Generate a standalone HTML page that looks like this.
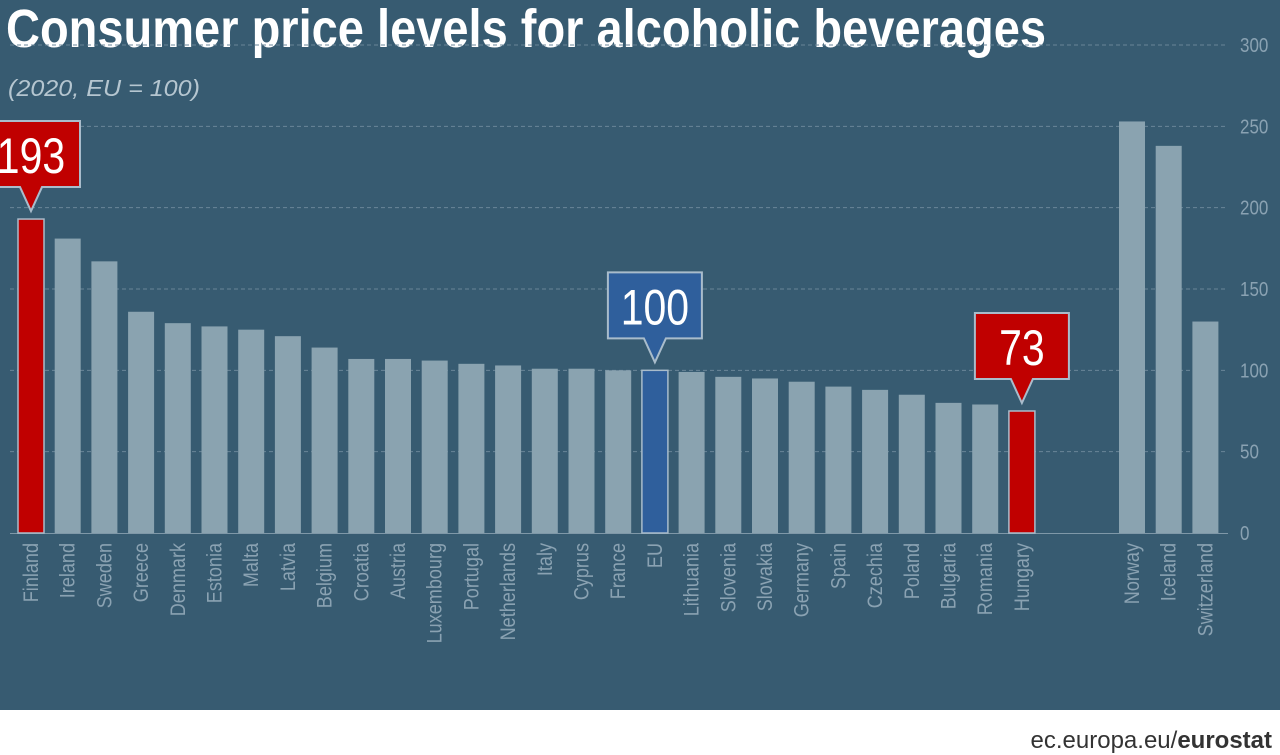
<!DOCTYPE html>
<html><head><meta charset="utf-8">
<style>
body{margin:0;width:1280px;height:755px;overflow:hidden;background:#fff;font-family:"Liberation Sans",sans-serif}
#panel{position:absolute;left:0;top:0;width:1280px;height:710px;background:#375b71}
</style></head><body>
<div id="panel"></div>
<svg id="chart" width="1280" height="755" style="position:absolute;left:0;top:0">
<text x="6" y="47" fill="#fff" font-size="54" font-weight="bold" textLength="1040" lengthAdjust="spacingAndGlyphs">Consumer price levels for alcoholic beverages</text>
<text x="8" y="96" fill="#b5c6d0" font-size="23" font-style="italic" textLength="192" lengthAdjust="spacingAndGlyphs">(2020, EU = 100)</text>
<text x="1272" y="748" text-anchor="end" fill="#333" font-size="24">ec.europa.eu/<tspan font-weight="bold">eurostat</tspan></text>
<g id="grid"></g><g id="bars"></g><g id="labels"></g><g id="callouts"></g>
</svg>
<script>
const categories=["Finland","Ireland","Sweden","Greece","Denmark","Estonia","Malta","Latvia","Belgium","Croatia","Austria","Luxembourg","Portugal","Netherlands","Italy","Cyprus","France","EU","Lithuania","Slovenia","Slovakia","Germany","Spain","Czechia","Poland","Bulgaria","Romania","Hungary","","","Norway","Iceland","Switzerland"];
const values=[193,181,167,136,129,127,125,121,114,107,107,106,104,103,101,101,100,100,99,96,95,93,90,88,85,80,79,75,null,null,253,238,130];
const yTicks=[0,50,100,150,200,250,300];
const highlights={"Finland":"193","EU":"100","Hungary":"73"};
const NS="http://www.w3.org/2000/svg";
const y=v=>533-v*488/300;
const xc=i=>31+i*36.7;
const bw=26;
function mk(t,a,p){const e=document.createElementNS(NS,t);for(const k in a)e.setAttribute(k,a[k]);p.appendChild(e);return e;}
const grid=document.getElementById('grid'),bars=document.getElementById('bars'),labels=document.getElementById('labels'),call=document.getElementById('callouts');
yTicks.forEach(t=>{
 if(t>0){const l=mk('line',{x1:10,x2:1228,y1:y(t),y2:y(t),stroke:'#6a8698','stroke-dasharray':'4,3','stroke-width':1},grid);
 
 }
 const tx=mk('text',{transform:`translate(1240,${y(t)+7}) scale(0.85,1)`,fill:'#8aa2b2','font-size':20},grid);tx.textContent=t;
 
 
});
const base=mk('line',{x1:10,x2:1228,y1:533.5,y2:533.5,stroke:'#7f98a8','stroke-width':1},grid);


categories.forEach((c,i)=>{
 if(values[i]==null)return;
 const col=c==='EU'?'#2f5f9c':(highlights[c]?'#c00000':'#8aa3b0');
 const r=mk('rect',{x:xc(i)-bw/2,y:y(values[i]),width:bw,height:533-y(values[i]),fill:col,stroke:highlights[c]?'#a9bccb':'none','stroke-width':1.5},bars);
 
 
 const t=mk('text',{transform:`translate(${xc(i)+7},543) rotate(-90) scale(0.86,1)`,'text-anchor':'end',fill:'#8aa2b2','font-size':21},labels);t.textContent=c;
 
 
 if(highlights[c]){
  const bx=c==='Finland'?-2:xc(i)-47, w=c==='Finland'?82:94, tipY=y(values[i])-8, bot=tipY-24, top=bot-66;
  const cx=xc(i);
  const fill=c==='EU'?'#2f5f9c':'#c00000';
  const p=mk('path',{d:`M${bx},${top}H${bx+w}V${bot}H${cx+11}L${cx},${tipY}L${cx-11},${bot}H${bx}Z`,fill:fill,stroke:'#a9bccb','stroke-width':2},call);
  
  
  const tt=mk('text',{transform:`translate(${c==='Finland'?31:cx},${bot-14}) scale(0.82,1)`,'text-anchor':'middle',fill:'#fff','font-size':50},call);tt.textContent=highlights[c];
  
  
 }
});
</script>
</body></html>
